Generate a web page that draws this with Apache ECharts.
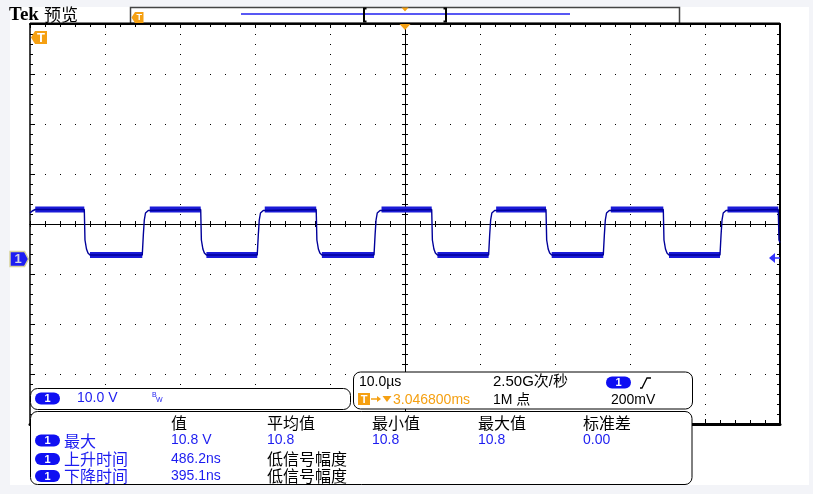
<!DOCTYPE html>
<html><head><meta charset="utf-8">
<script src="https://cdn.jsdelivr.net/npm/echarts@6/dist/echarts.min.js"></script>
<style>
html,body{margin:0;padding:0;background:#f3f4f8;overflow:hidden;}
#screen{position:absolute;left:10px;top:7px;width:799px;height:478px;background:#fff;}
#chart{position:absolute;left:0;top:0;width:813px;height:494px;}
</style></head><body>
<div id="screen"></div><div id="chart"></div>
<script>
// ---- data ----
// time in microseconds (screen centre = 0), channel 1 voltage in volts
const traceT = [-50.0,-49.7,-49.3,
 -42.76,-42.67,-42.47,-42.27,-42.0,
 -35.03,-34.89,-34.76,-34.6,-34.23,-34.03,
 -27.24,-27.15,-26.95,-26.75,-26.48,
 -19.7,-19.56,-19.43,-19.27,-18.9,-18.7,
 -11.84,-11.75,-11.55,-11.35,-11.08,
 -4.13,-3.99,-3.86,-3.7,-3.33,-3.13,
 3.56,3.65,3.85,4.05,4.32,
 11.15,11.29,11.42,11.58,11.95,12.15,
 18.8,18.89,19.09,19.29,19.56,
 26.44,26.58,26.71,26.87,27.24,27.44,
 34.44,34.53,34.73,34.93,35.2,
 42.0,42.14,42.27,42.43,42.8,43.0,
 49.77,49.86,50.0];
const traceV = [9.2,9.6,9.9,
 9.9,3.8,2.0,1.2,0.8,
 0.8,4.8,7.8,9.2,9.7,9.9,
 9.9,3.8,2.0,1.2,0.8,
 0.8,4.8,7.8,9.2,9.7,9.9,
 9.9,3.8,2.0,1.2,0.8,
 0.8,4.8,7.8,9.2,9.7,9.9,
 9.9,3.8,2.0,1.2,0.8,
 0.8,4.8,7.8,9.2,9.7,9.9,
 9.9,3.8,2.0,1.2,0.8,
 0.8,4.8,7.8,9.2,9.7,9.9,
 9.9,3.8,2.0,1.2,0.8,
 0.8,4.8,7.8,9.2,9.7,9.9,
 9.9,3.8,3.3];
const timeRange = [-50, 50];        // 10 div x 10.0 us
const voltRange = [-33, 47];        // 8 div x 10.0 V, ground 0.7 div below centre
const triggerTimeUs = 0;
const triggerLevelV = 0.2;
const chScale = '10.0 V';
const timeBase = '10.0µs';
const sampleRate = '2.50G次/秒';
const triggerPos = '3.046800ms';
const recordLen = '1M 点';
const trigLevelText = '200mV';
const measHeaders = ['值', '平均值', '最小值', '最大值', '标准差'];
const measNames = ['最大', '上升时间', '下降时间'];
const measValues = [
  ['10.8 V', '10.8', '10.8', '10.8', '0.00'],
  ['486.2ns', '低信号幅度'],
  ['395.1ns', '低信号幅度']
];

// ---- chart ----
const BLK = '#000';
const BLUE = '#1c1cf0';
const ORANGE = '#f5a012';
const LATIN = '"Liberation Sans", Arial, sans-serif';
const CJK = '"Noto Sans CJK SC", sans-serif';
const MIX = '"Liberation Sans", "Noto Sans CJK SC", sans-serif';

const chart = echarts.init(document.getElementById('chart'), null, {renderer: 'canvas', width: 813, height: 494});

const gridRect = {left: 30, top: 24, width: 750, height: 400};
const xDiv = {type: 'value', min: -5, max: 5, interval: 1, axisLabel: {show: false}, splitLine: {show: false}};
const yDiv = {type: 'value', min: -4, max: 4, interval: 1, axisLabel: {show: false}, splitLine: {show: false}};
function ax(base, o) { return Object.assign({}, base, o); }
function line(w) { return {show: true, onZero: false, lineStyle: {color: BLK, width: w}}; }
function tick(len) { return {show: true, inside: true, length: len, lineStyle: {color: BLK, width: 1}}; }
function mtick(len) { return {show: true, splitNumber: 5, length: len, lineStyle: {color: BLK, width: 1}}; }

const core = traceT.map((t, i) => [t, traceV[i]]);
const band = traceT.map((t, i) => (traceV[i] >= 9.85 || traceV[i] <= 0.8) ? [t, traceV[i]] : [t, '-']);

chart.setOption({
  animation: false,
  backgroundColor: 'transparent',
  grid: [Object.assign({}, gridRect), Object.assign({}, gridRect), Object.assign({}, gridRect)],
  xAxis: [
    {gridIndex: 0, type: 'value', min: timeRange[0], max: timeRange[1], show: false},
    ax(xDiv, {gridIndex: 1, position: 'bottom', axisLine: line(3), axisTick: tick(5), minorTick: mtick(4),
      splitLine: {show: true, lineStyle: {color: BLK, width: 1, type: [1, 9]}}}),
    ax(xDiv, {gridIndex: 1, position: 'top', axisLine: line(2), axisTick: tick(4), minorTick: mtick(3)}),
    ax(xDiv, {gridIndex: 2, position: 'bottom', offset: -200, axisLine: line(1), axisTick: tick(3), minorTick: mtick(3)}),
    ax(xDiv, {gridIndex: 2, position: 'top', offset: -200, axisLine: line(1), axisTick: tick(3), minorTick: mtick(3)})
  ],
  yAxis: [
    {gridIndex: 0, type: 'value', min: voltRange[0], max: voltRange[1], show: false},
    ax(yDiv, {gridIndex: 1, position: 'left', axisLine: line(1.5), axisTick: tick(5), minorTick: mtick(3),
      splitLine: {show: true, lineStyle: {color: BLK, width: 1, type: [1, 14]}}}),
    ax(yDiv, {gridIndex: 1, position: 'right', axisLine: line(2), axisTick: tick(4), minorTick: mtick(3)}),
    ax(yDiv, {gridIndex: 2, position: 'left', offset: -375, axisLine: line(1), axisTick: tick(3), minorTick: mtick(3)}),
    ax(yDiv, {gridIndex: 2, position: 'right', offset: -375, axisLine: line(1), axisTick: tick(3), minorTick: mtick(3)})
  ],
  series: [
    {type: 'line', xAxisIndex: 0, yAxisIndex: 0, data: band, symbol: 'none', connectNulls: false,
      lineStyle: {color: '#1b1bd8', width: 6, cap: 'butt'}, z: 3, silent: true},
    {type: 'line', xAxisIndex: 0, yAxisIndex: 0, data: core, symbol: 'none',
      lineStyle: {color: '#00009a', width: 1.4}, z: 4, silent: true}
  ]
});

// ---- annotations (markers, panels, readouts) ----
const gnd = chart.convertToPixel({gridIndex: 0}, [triggerTimeUs, 0]);
const trg = chart.convertToPixel({gridIndex: 0}, [triggerTimeUs, triggerLevelV]);
const gx = gnd[0], gy = gnd[1], ty = trg[1];

function txt(x, y, text, fill, font, align) {
  return {type: 'text', x: x, y: y, z: 120, silent: true,
    style: {text: text, fill: fill, font: font, align: align || 'left', verticalAlign: 'middle'}};
}
function pill(cx, cy) {
  return [
    {type: 'rect', z: 115, silent: true, shape: {x: cx - 12.5, y: cy - 6, width: 25, height: 12, r: 6}, style: {fill: '#0f0ff2'}},
    txt(cx, cy + 0.5, '1', '#fff', 'bold 11px ' + LATIN, 'center')
  ];
}
function tIcon(x0, y0, x1, y1, tip, fs) {
  const ym = (y0 + y1) / 2;
  const pts = tip ? [[tip, ym], [x0, y0], [x1, y0], [x1, y1], [x0, y1]] : [[x0, y0], [x1, y0], [x1, y1], [x0, y1]];
  return [
    {type: 'polygon', z: 115, silent: true, shape: {points: pts}, style: {fill: ORANGE}},
    txt((x0 + x1) / 2, ym + 0.5, 'T', '#fff', 'bold ' + fs + 'px ' + LATIN, 'center')
  ];
}
function panel(x, y, w, h) {
  return {type: 'rect', z: 110, silent: true, shape: {x: x, y: y, width: w, height: h, r: 7},
    style: {fill: '#fff', stroke: BLK, lineWidth: 1}};
}

let els = [];
// title
els.push(txt(9, 15, 'Tek', BLK, 'bold 19px "Liberation Serif", serif'));
els.push(txt(44, 15, '预览', BLK, '17px ' + CJK));
// record view bar
els.push({type: 'rect', z: 110, silent: true, shape: {x: 130.5, y: 7.5, width: 549, height: 16}, style: {fill: '#fff', stroke: '#444', lineWidth: 1.5}});
els.push({type: 'line', z: 112, silent: true, shape: {x1: 30, y1: 23.5, x2: 780, y2: 23.5}, style: {stroke: BLK, lineWidth: 2}});
els.push({type: 'line', z: 112, silent: true, shape: {x1: 241, y1: 14, x2: 570, y2: 14}, style: {stroke: '#2020f0', lineWidth: 1.5}});
els.push({type: 'polyline', z: 113, silent: true, shape: {points: [[366.5, 8.5], [364, 8.5], [364, 21.5], [366.5, 21.5]]}, style: {stroke: BLK, lineWidth: 2, fill: null}});
els.push({type: 'polyline', z: 113, silent: true, shape: {points: [[443.5, 8.5], [446, 8.5], [446, 21.5], [443.5, 21.5]]}, style: {stroke: BLK, lineWidth: 2, fill: null}});
els.push({type: 'polygon', z: 114, silent: true, shape: {points: [[gx - 3.5, 7.5], [gx + 3.5, 7.5], [gx, 11.5]]}, style: {fill: ORANGE}});
els = els.concat(tIcon(135, 12, 143.5, 23, 131.5, 9));
// trigger position marker and trigger-time icon
els.push({type: 'polygon', z: 114, silent: true, shape: {points: [[gx - 5.5, 24], [gx + 5.5, 24], [gx, 30]]}, style: {fill: ORANGE}});
els = els.concat(tIcon(35, 31, 47, 44, 31, 13));
// channel 1 ground marker
els.push({type: 'polygon', z: 114, silent: true, shape: {points: [[10, gy - 7.5], [24.5, gy - 7.5], [28.5, gy], [24.5, gy + 7.5], [10, gy + 7.5]]},
  style: {fill: '#1e1ef2', stroke: '#d9d49c', lineWidth: 1.5}});
els.push(txt(18, gy + 0.5, '1', '#d4d4e4', 'bold 13px ' + LATIN, 'center'));
// trigger level arrow
els.push({type: 'polygon', z: 114, silent: true, shape: {points: [[769, ty], [775, ty - 5], [775, ty + 5]]}, style: {fill: '#3232ff'}});
els.push({type: 'line', z: 114, silent: true, shape: {x1: 775, y1: ty, x2: 780, y2: ty}, style: {stroke: '#3232ff', lineWidth: 1.5}});

// channel panel
els.push(panel(30.5, 388.5, 320, 21));
els = els.concat(pill(47.5, 398.5));
els.push(txt(77, 398.5, chScale, BLUE, '14px ' + LATIN));
els.push(txt(152, 395, 'B', BLUE, '7px ' + LATIN));
els.push(txt(156, 400.5, 'W', BLUE, '7px ' + LATIN));

// timebase panel
els.push(panel(353.5, 372, 339, 37));
els.push(txt(359, 382, timeBase, BLK, '14px ' + LATIN));
els.push(txt(493, 382, sampleRate, BLK, '15px ' + MIX));
els = els.concat(pill(618.5, 382.5));
els.push({type: 'polyline', z: 115, silent: true, shape: {points: [[640, 388], [642, 388], [647, 378], [651, 378]]}, style: {stroke: BLK, lineWidth: 1.3, fill: null}});
els = els.concat(tIcon(358, 393, 370, 405, null, 11));
els.push({type: 'line', z: 115, silent: true, shape: {x1: 371, y1: 399, x2: 379, y2: 399}, style: {stroke: ORANGE, lineWidth: 1.5}});
els.push({type: 'polygon', z: 115, silent: true, shape: {points: [[377, 396], [381, 399], [377, 402]]}, style: {fill: ORANGE}});
els.push({type: 'polygon', z: 115, silent: true, shape: {points: [[382.5, 396], [391.5, 396], [387, 402]]}, style: {fill: ORANGE}});
els.push(txt(393, 400, triggerPos, ORANGE, '14px ' + LATIN));
els.push(txt(493, 400, recordLen, BLK, '14px ' + MIX));
els.push(txt(611, 400, trigLevelText, BLK, '14px ' + LATIN));

// measurement panel
els.push(panel(30.5, 411.5, 661.5, 73));
const colX = [171, 267, 372, 478, 583];
const rowY = [440.5, 459, 476];
measHeaders.forEach((h, i) => els.push(txt(colX[i], 422.5, h, BLK, '16px ' + CJK)));
measNames.forEach((n, r) => {
  els = els.concat(pill(47.5, rowY[r]));
  els.push(txt(64, rowY[r], n, BLUE, '16px ' + CJK));
  measValues[r].forEach((v, c) => {
    const isNum = /^[0-9.]/.test(v);
    els.push(txt(colX[c], rowY[r], v, isNum ? BLUE : BLK, isNum ? '14px ' + LATIN : '16px ' + CJK));
  });
});

chart.setOption({graphic: {elements: els}});
</script>
</body></html>
